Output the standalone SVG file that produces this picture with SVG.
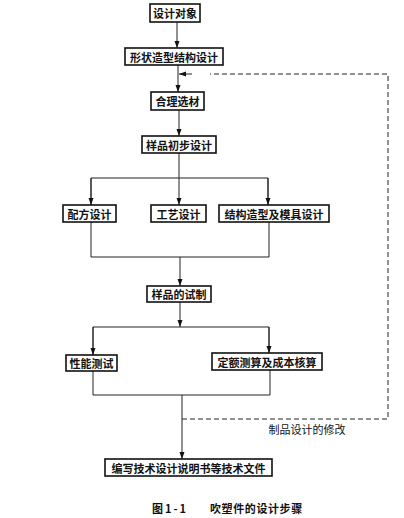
<svg xmlns="http://www.w3.org/2000/svg" width="404" height="518" viewBox="0 0 404 518">
<style>
.box{fill:#fff;stroke:#111;stroke-width:1.6}
.t{font-family:"Noto Sans CJK SC",sans-serif;font-size:11px;font-weight:bold;fill:#111;text-anchor:middle;dominant-baseline:central}
.ln{stroke:#222;stroke-width:1;fill:none}
.dash{stroke:#222;stroke-width:1;fill:none;stroke-dasharray:5,3}
</style>
<defs>
<marker id="ah" markerWidth="8" markerHeight="8" refX="7" refY="4" orient="auto" markerUnits="userSpaceOnUse">
<path d="M0,1.5 L7,4 L0,6.5 Z" fill="#111"/>
</marker>
</defs>
<rect width="404" height="518" fill="#fff"/>
<g id="connectors">
<line class="ln" x1="177" y1="22" x2="177" y2="48" marker-end="url(#ah)"/>
<line class="ln" x1="178" y1="65" x2="178" y2="92" marker-end="url(#ah)"/>
<line class="ln" x1="179" y1="110" x2="179" y2="136" marker-end="url(#ah)"/>
<line class="ln" x1="179" y1="153" x2="179" y2="205" marker-end="url(#ah)"/>
<polyline class="ln" points="91,205 91,178 268,178 268,205"/>
<line class="ln" x1="91" y1="178" x2="91" y2="205" marker-end="url(#ah)"/>
<line class="ln" x1="268" y1="178" x2="268" y2="205" marker-end="url(#ah)"/>
<polyline class="ln" points="91,222 91,257 269,257 269,222"/>
<line class="ln" x1="180" y1="257" x2="180" y2="286" marker-end="url(#ah)"/>
<line class="ln" x1="180" y1="302" x2="180" y2="327" marker-end="url(#ah)"/>
<polyline class="ln" points="93,355 93,327 269,327 269,353"/>
<line class="ln" x1="93" y1="327" x2="93" y2="355" marker-end="url(#ah)"/>
<line class="ln" x1="269" y1="327" x2="269" y2="353" marker-end="url(#ah)"/>
<polyline class="ln" points="93,371 93,395 270,395 270,370"/>
<line class="ln" x1="182" y1="395" x2="182" y2="459" marker-end="url(#ah)"/>
<polyline class="dash" points="182,419 388,419 388,74 210,74"/>
<line class="ln" x1="192" y1="74" x2="179" y2="74" marker-end="url(#ah)"/>
<text class="t" x="307" y="429" style="font-weight:normal">制品设计的修改</text>
</g>
<g id="n1"><rect class="box" x="150" y="4" width="50" height="18"/><text class="t" x="175" y="13">设计对象</text></g>
<g id="n2"><rect class="box" x="125" y="48" width="98" height="17"/><text class="t" x="174" y="56.5">形状造型结构设计</text></g>
<g id="n3"><rect class="box" x="151" y="92" width="53" height="18"/><text class="t" x="177.5" y="101">合理选材</text></g>
<g id="n4"><rect class="box" x="142" y="136" width="74" height="17"/><text class="t" x="179" y="144.5">样品初步设计</text></g>
<g id="n5"><rect class="box" x="63" y="205" width="53" height="17"/><text class="t" x="89.5" y="213.5">配方设计</text></g>
<g id="n6"><rect class="box" x="151" y="205" width="55" height="17"/><text class="t" x="178.5" y="213.5">工艺设计</text></g>
<g id="n7"><rect class="box" x="219" y="205" width="110" height="17"/><text class="t" x="274" y="213.5">结构造型及模具设计</text></g>
<g id="n8"><rect class="box" x="147" y="286" width="64" height="16"/><text class="t" x="179" y="294">样品的试制</text></g>
<g id="n9"><rect class="box" x="66" y="355" width="51" height="16"/><text class="t" x="91.5" y="363">性能测试</text></g>
<g id="n10"><rect class="box" x="212" y="353" width="110" height="17"/><text class="t" x="267" y="361.5">定额测算及成本核算</text></g>
<g id="n11"><rect class="box" x="105" y="459" width="167" height="17"/><text class="t" x="188.5" y="467.5">编写技术设计说明书等技术文件</text></g>
<text class="t" x="152" y="508" style="text-anchor:start;letter-spacing:2px">图1-1</text>
<text class="t" x="210" y="508" style="text-anchor:start;letter-spacing:0.6px">吹塑件的设计步骤</text>
</svg>
